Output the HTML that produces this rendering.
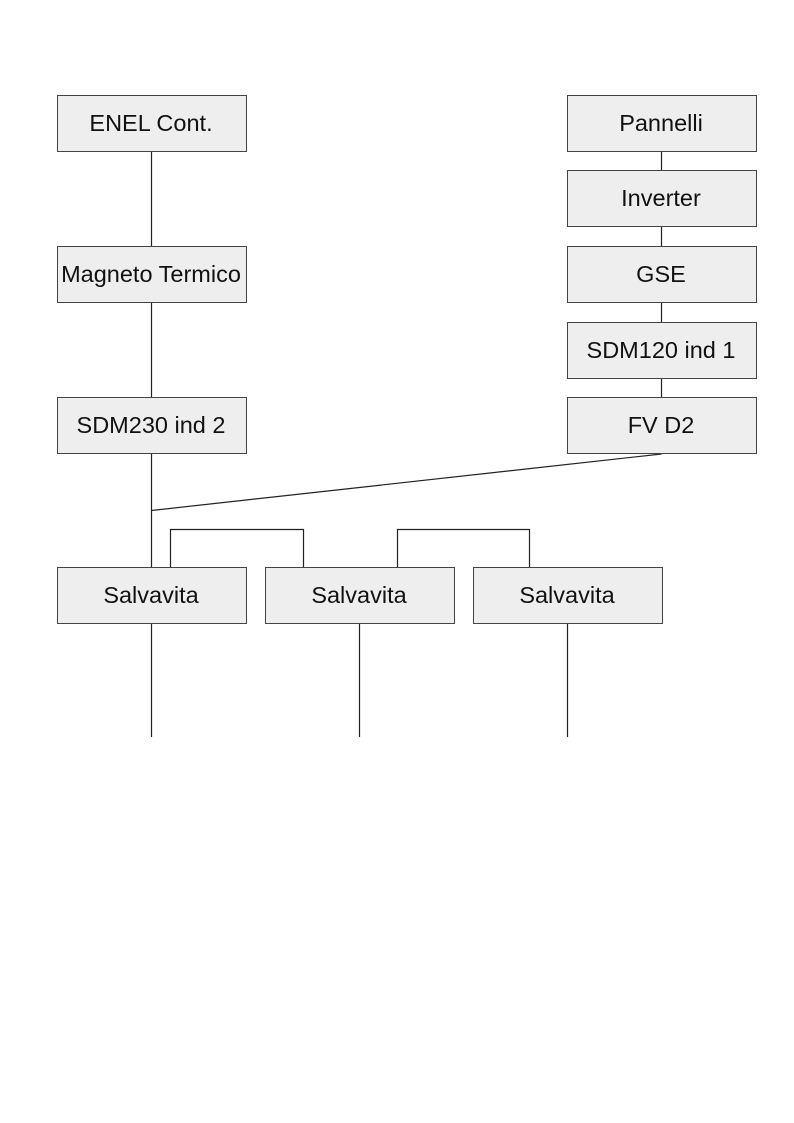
<!DOCTYPE html>
<html><head><meta charset="utf-8"><style>
html,body{margin:0;padding:0;background:#fff;}
svg{display:block;}
text{font-family:"Liberation Sans",Arial,sans-serif;font-size:23.5px;fill:#111;text-anchor:middle;}
</style></head><body>
<svg width="794" height="1123" viewBox="0 0 794 1123" xmlns="http://www.w3.org/2000/svg">
<g stroke="#222" stroke-width="1.2" fill="none">
<line x1="151.5" y1="152" x2="151.5" y2="246"/>
<line x1="151.5" y1="303" x2="151.5" y2="397"/>
<line x1="151.5" y1="454" x2="151.5" y2="567"/>
<line x1="661.5" y1="152" x2="661.5" y2="170"/>
<line x1="661.5" y1="227" x2="661.5" y2="246"/>
<line x1="661.5" y1="303" x2="661.5" y2="322"/>
<line x1="661.5" y1="379" x2="661.5" y2="397"/>
<line x1="661.5" y1="454" x2="151.5" y2="510.5"/>
<polyline points="170.5,567 170.5,529.5 303.5,529.5 303.5,567"/>
<polyline points="397.5,567 397.5,529.5 529.5,529.5 529.5,567"/>
<line x1="151.5" y1="624" x2="151.5" y2="737"/>
<line x1="359.5" y1="624" x2="359.5" y2="737"/>
<line x1="567.5" y1="624" x2="567.5" y2="737"/>
</g>
<g fill="#eeeeee" stroke="#444" stroke-width="1">
<rect x="57.5" y="95.5" width="189" height="56"/>
<rect x="57.5" y="246.5" width="189" height="56"/>
<rect x="57.5" y="397.5" width="189" height="56"/>
<rect x="567.5" y="95.5" width="189" height="56"/>
<rect x="567.5" y="170.5" width="189" height="56"/>
<rect x="567.5" y="246.5" width="189" height="56"/>
<rect x="567.5" y="322.5" width="189" height="56"/>
<rect x="567.5" y="397.5" width="189" height="56"/>
<rect x="57.5" y="567.5" width="189" height="56"/>
<rect x="265.5" y="567.5" width="189" height="56"/>
<rect x="473.5" y="567.5" width="189" height="56"/>
</g>
<text x="151" y="131">ENEL Cont.</text>
<text x="151" y="282">Magneto Termico</text>
<text x="151" y="433">SDM230 ind 2</text>
<text x="661" y="131">Pannelli</text>
<text x="661" y="206">Inverter</text>
<text x="661" y="282">GSE</text>
<text x="661" y="358">SDM120 ind 1</text>
<text x="661" y="433">FV D2</text>
<text x="151" y="603">Salvavita</text>
<text x="359" y="603">Salvavita</text>
<text x="567" y="603">Salvavita</text>
</svg>
</body></html>
